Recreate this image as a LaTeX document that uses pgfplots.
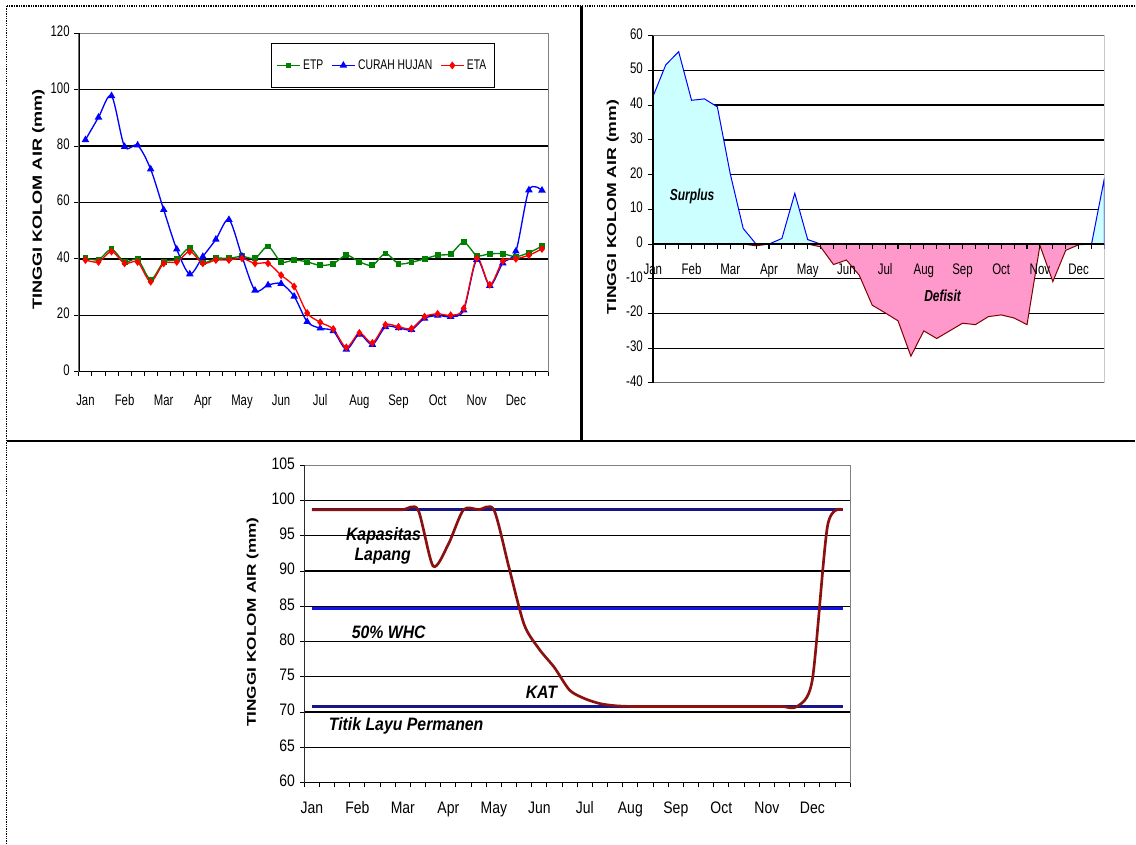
\documentclass[border=0pt]{standalone}
\usepackage{fontspec}
\setmainfont{Liberation Sans}
\newfontfamily\fa[FakeStretch=0.74]{Liberation Sans}
\newfontfamily\fb[FakeStretch=0.75]{Liberation Sans}
\newfontfamily\fc[FakeStretch=0.84]{Liberation Sans}
\newfontfamily\fd[FakeStretch=0.88]{Liberation Sans}
\newfontfamily\fw[FakeStretch=1.36]{Liberation Sans}
\usepackage{pgfplots}
\pgfplotsset{compat=1.18}
\definecolor{etpgreen}{HTML}{008000}
\definecolor{surfill}{HTML}{CCFFFF}
\definecolor{defill}{HTML}{FF99CC}
\definecolor{maroonc}{HTML}{800000}
\definecolor{navyc}{HTML}{16168A}
\definecolor{whcblue}{HTML}{1010F0}
\definecolor{soilred}{HTML}{8B1010}
\pgfplotstableread{
x etp ch eta
1 40.3 82.2 39.6
2 39.7 90.2 38.9
3 43.4 97.8 42.6
4 38.9 79.8 38.4
5 39.8 80.3 38.9
6 32.7 71.8 31.9
7 38.9 57.4 38.4
8 39.8 43.4 38.9
9 43.8 34.6 42.6
10 38.7 40.8 38.4
11 40.2 46.9 39.6
12 40.2 53.9 39.6
13 40.9 40.9 40.2
14 40.2 28.8 38.4
15 44.4 30.7 38.4
16 38.9 31.2 34.2
17 39.6 26.7 30.2
18 38.9 17.7 20.8
19 37.7 15.4 17.5
20 38.3 14.4 15.1
21 41.3 7.9 8.6
22 39.0 13.2 13.7
23 37.7 9.6 10.2
24 41.9 15.9 16.6
25 38.3 15.5 15.9
26 38.8 14.9 15.3
27 40.0 18.9 19.5
28 41.3 19.9 20.5
29 41.8 19.5 20.0
30 45.9 21.8 22.4
31 41.2 39.7 40.2
32 41.8 30.5 30.8
33 41.8 38.5 39.2
34 40.8 42.7 40.0
35 42.2 64.4 41.3
36 44.5 64.3 43.5
}\tableA
\pgfplotstableread{
x sur def
0 42.4 0
1 51.6 0
2 55.4 0
3 41.4 0
4 41.8 0
5 39.5 0
6 20.2 0
7 4.5 0
8 0 -0.5
9 0 0
10 1.6 0
11 14.6 0
12 1.3 0
13 0 -0.8
14 0 -5.9
15 0 -4.6
16 0 -9.0
17 0 -17.6
18 0 -19.8
19 0 -22.1
20 0 -32.3
21 0 -25.0
22 0 -27.2
23 0 -25.0
24 0 -22.8
25 0 -23.2
26 0 -20.9
27 0 -20.4
28 0 -21.3
29 0 -23.2
30 0 -0.4
31 0 -10.8
32 0 -1.8
33 0 -0.2
34 0 0
35 19.0 0
}\tableB
\pgfplotstableread{
x sm
1 98.7
2 98.7
3 98.7
4 98.7
5 98.7
6 98.7
7 98.7
8 98.7
9 90.7
10 93.8
11 98.7
12 98.7
13 98.7
14 90.5
15 82.4
16 78.9
17 76.3
18 73.1
19 71.9
20 71.2
21 70.9
22 70.8
23 70.8
24 70.8
25 70.8
26 70.8
27 70.8
28 70.8
29 70.8
30 70.8
31 70.8
32 70.8
33 70.8
34 74.6
35 96.4
36 98.7
}\tableC
\begin{document}
\begin{tikzpicture}
\path (0pt,0pt) rectangle (852pt,633pt);
\draw[line width=1.6pt, dash pattern=on 1pt off 0.8pt] (5pt,628.5pt) -- (852pt,628.5pt);
\draw[line width=1.2pt, dash pattern=on 1pt off 0.8pt] (5pt,628.5pt) -- (5pt,0pt);
\draw[line width=2pt] (436.7pt,628.5pt) -- (436.7pt,301.7pt);
\draw[line width=1.6pt] (5pt,301.7pt) -- (852pt,301.7pt);

% ---------------- Chart 1 ----------------
\begin{axis}[
  at={(59.25pt,354pt)}, anchor=south west, scale only axis,
  width=352.5pt, height=254pt,
  xmin=0.5, xmax=36.5, ymin=0, ymax=120,
  xtick={0.5,1.5,...,36.5}, xticklabels={},
  extra x ticks={1,4,...,34},
  extra x tick labels={Jan,Feb,Mar,Apr,May,Jun,Jul,Aug,Sep,Oct,Nov,Dec},
  extra x tick style={major tick length=0pt},
  ytick={0,20,...,100}, extra y ticks={120}, extra y tick style={grid=none},
  ymajorgrids, grid style={black, line width=1pt},
  tick align=outside, xtick pos=bottom, ytick pos=left,
  tick style={black, line width=0.75pt},
  major tick length=3.5pt,
  axis line style={gray, line width=0.75pt},
  /pgf/number format/assume math mode=true,
  typeset ticklabels with strut,
  ticklabel style={font=\fa\fontsize{11.5}{13}\selectfont},
  xticklabel style={yshift=-13pt},
  ylabel={TINGGI KOLOM AIR (mm)},
  ylabel style={font=\fw\bfseries\fontsize{10}{12}\selectfont, at={(axis description cs:-0.0862,0.508)}, anchor=center},
  legend columns=3,
  legend style={at={(axis description cs:0.647,0.905)}, anchor=center, draw=black, line width=0.9pt,
    font=\fa\fontsize{10.5}{12}\selectfont, inner xsep=4pt, inner ysep=10pt,
    /tikz/every even column/.append style={column sep=4pt}},
]
\addplot[etpgreen, line width=1pt, smooth, mark=square*, mark size=1.7pt, mark options={solid}] table[x=x,y=etp] {\tableA};
\addlegendentry{ETP}
\addplot[blue, line width=1pt, smooth, mark=triangle*, mark size=2.3pt, mark options={solid}] table[x=x,y=ch] {\tableA};
\addlegendentry{CURAH HUJAN}
\addplot[red, line width=1pt, smooth, mark=diamond*, mark size=2.2pt, mark options={solid}] table[x=x,y=eta] {\tableA};
\addlegendentry{ETA}
\draw[black, line width=1pt] (rel axis cs:0,1) -- (rel axis cs:0,0) -- (rel axis cs:1,0);
\end{axis}

% ---------------- Chart 2 ----------------
\begin{axis}[
  axis on top,
  at={(490.1pt,345.5pt)}, anchor=south west, scale only axis,
  width=339pt, height=260.7pt,
  xmin=0, xmax=35, ymin=-40, ymax=60,
  axis x line=middle, axis y line=left,
  axis line style={-, black, line width=1pt},
  hide obscured x ticks=false, hide obscured y ticks=false,
  xtick={0,3,...,33},
  xticklabels={Jan,Feb,Mar,Apr,May,Jun,Jul,Aug,Sep,Oct,Nov,Dec},
  ytick={-40,-30,...,60},
  tick align=outside,
  tick style={black, line width=0.75pt},
  major tick length=4pt,
  /pgf/number format/assume math mode=true,
  typeset ticklabels with strut,
  ticklabel style={font=\fb\fontsize{11.5}{13}\selectfont},
  xticklabel style={yshift=-6pt},
  ylabel={TINGGI KOLOM AIR (mm)},
  ylabel style={font=\fw\bfseries\fontsize{9.75}{12}\selectfont, at={(axis description cs:-0.0889,0.506)}, anchor=center},
]
\pgfplotsinvokeforeach{-30,-20,-10,10,20,30,40,50}{
  \draw[black, line width=1pt] (axis cs:0,#1) -- (axis cs:35,#1);
}
\addplot[draw=blue, fill=surfill, line width=0.75pt] table[x=x,y=sur] {\tableB} \closedcycle;
\addplot[draw=maroonc, fill=defill, line width=0.75pt] table[x=x,y=def] {\tableB} \closedcycle;
\draw[gray!80!black, line width=0.75pt] (rel axis cs:0,0) rectangle (rel axis cs:1,1);
\pgfplotsinvokeforeach{0,1,2,3,4,5,6,7,8,9,10,11,12,13,14,15,16,17,18,19,20,21,22,23,24,25,26,27,28,29,30,31,32,33,34,35}{
  \draw[black, line width=0.8pt] (axis cs:#1,0) -- ++(0pt,-4pt);
}
\node[font=\fb\bfseries\itshape\fontsize{12}{14}\selectfont] at (axis cs:3.04,13.7) {Surplus};
\node[font=\fb\bfseries\itshape\fontsize{12}{14}\selectfont] at (axis cs:22.46,-14.8) {Defisit};
\end{axis}

% ---------------- Chart 3 ----------------
\begin{axis}[
  at={(228.4pt,45.5pt)}, anchor=south west, scale only axis,
  width=409.9pt, height=238.2pt,
  xmin=0.5, xmax=36.5, ymin=60, ymax=105,
  xtick={0.5,1.5,...,36.5}, xticklabels={},
  extra x ticks={1,4,...,34},
  extra x tick labels={Jan,Feb,Mar,Apr,May,Jun,Jul,Aug,Sep,Oct,Nov,Dec},
  extra x tick style={major tick length=0pt},
  ytick={60,65,...,100}, extra y ticks={105}, extra y tick style={grid=none},
  ymajorgrids, grid style={black, line width=1pt},
  tick align=outside, xtick pos=bottom, ytick pos=left,
  tick style={black, line width=0.75pt},
  major tick length=3.5pt,
  axis line style={gray, line width=0.75pt},
  /pgf/number format/assume math mode=true,
  typeset ticklabels with strut,
  ticklabel style={font=\fc\fontsize{12.5}{14}\selectfont},
  xticklabel style={yshift=-10pt},
  ylabel={TINGGI KOLOM AIR (mm)},
  ylabel style={font=\fw\bfseries\fontsize{9.5}{12}\selectfont, at={(axis description cs:-0.0944,0.506)}, anchor=center},
]
\addplot[navyc, line width=2.2pt] coordinates {(1,98.7) (36,98.7)};
\addplot[whcblue, line width=2.6pt] coordinates {(1,84.7) (36,84.7)};
\addplot[navyc, line width=2.2pt] coordinates {(1,70.8) (36,70.8)};
\addplot[soilred, line width=2pt, smooth, tension=0.45] table[x=x,y=sm] {\tableC};
\draw[black, line width=1pt] (rel axis cs:0,1) -- (rel axis cs:0,0) -- (rel axis cs:1,0);
\node[font=\fd\bfseries\itshape\fontsize{13.5}{15}\selectfont] at (axis cs:5.72,95.0) {Kapasitas};
\node[font=\fd\bfseries\itshape\fontsize{13.5}{15}\selectfont] at (axis cs:5.67,92.07) {Lapang};
\node[font=\fd\bfseries\itshape\fontsize{13.5}{15}\selectfont] at (axis cs:6.07,81.3) {50\% WHC};
\node[font=\fd\bfseries\itshape\fontsize{13.5}{15}\selectfont] at (axis cs:16.14,72.8) {KAT};
\node[font=\fd\bfseries\itshape\fontsize{13.5}{15}\selectfont] at (axis cs:7.22,67.98) {Titik Layu Permanen};
\end{axis}
\end{tikzpicture}
\end{document}
